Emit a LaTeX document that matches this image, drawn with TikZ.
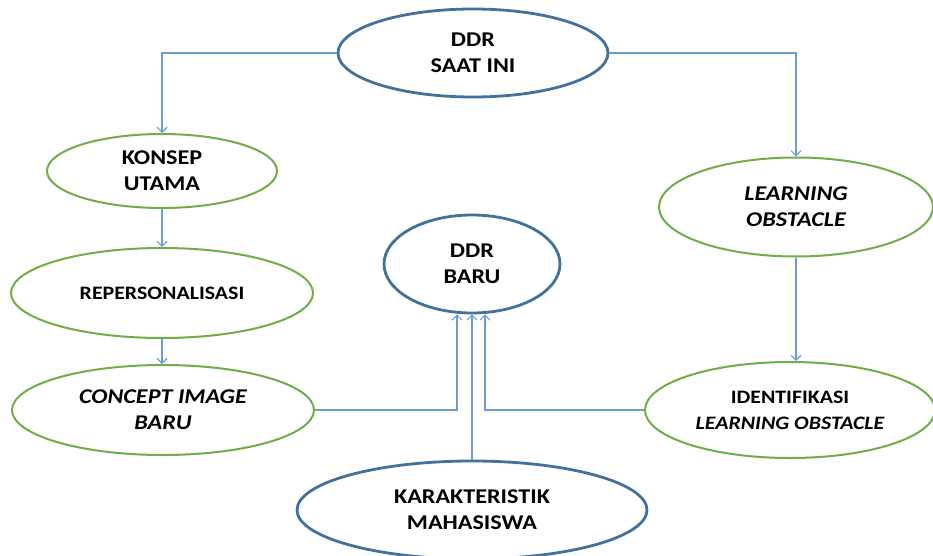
\documentclass[tikz,border=0pt]{standalone}
\usepackage{fontspec}
\setmainfont{Carlito}[FakeStretch=1.15]
\usetikzlibrary{shapes.geometric,arrows.meta}
\definecolor{bord}{HTML}{41719C}
\definecolor{grn}{HTML}{70AD47}
\definecolor{lnk}{HTML}{6C9BD6}
\tikzset{
  base/.style={ellipse,inner sep=0pt,align=center,font=\fontsize{21}{26}\selectfont\bfseries,fill=white},
  blueell/.style={base,draw=bord,line width=2.8pt},
  greenell/.style={base,draw=grn,line width=2pt},
  smalltext/.style={font=\fontsize{19}{26}\selectfont\bfseries},
  conn/.style={draw=lnk,line width=1.2pt,-{Straight Barb[length=5pt,width=10pt,line width=1.1pt]}},
}
\begin{document}
\begin{tikzpicture}[x=1pt,y=-1pt]
\useasboundingbox (0,0) rectangle (933,556);
\node[blueell,minimum width=270pt,minimum height=88pt] (ddr) at (473,53) {DDR\\SAAT INI};
\node[greenell,minimum width=230pt,minimum height=74pt] (konsep) at (162,171) {KONSEP\\UTAMA};
\node[greenell,smalltext,minimum width=302pt,minimum height=90pt] (rep) at (162,293) {REPERSONALISASI};
\node[greenell,minimum width=302pt,minimum height=90pt] (cib) at (163,410) {\itshape CONCEPT IMAGE\\\itshape BARU};
\node[greenell,minimum width=274pt,minimum height=99pt] (lo) at (796,207) {\itshape LEARNING\\\itshape OBSTACLE};
\node[greenell,smalltext,minimum width=290pt,minimum height=96pt] (ilo) at (790,410) {IDENTIFIKASI\\\itshape LEARNING OBSTACLE};
\node[blueell,minimum width=176pt,minimum height=98pt] (ddrbaru) at (472,264) {DDR\\BARU};
\node[blueell,minimum width=350pt,minimum height=98pt] (kar) at (472,510) {KARAKTERISTIK\\MAHASISWA};
\draw[conn] (ddr.west) -| (konsep.north);
\draw[conn] (ddr.east) -| (lo.north);
\draw[conn] (konsep.south) -- (konsep.south |- rep.north);
\draw[conn] (rep.south) -- (rep.south |- cib.north);
\draw[conn] (lo.south) -- (lo.south |- ilo.north);
\draw[conn] (cib.east) -| ([xshift=-15pt]ddrbaru.south);
\draw[conn] (kar.north) -- (kar.north |- ddrbaru.south);
\draw[conn] (ilo.west) -| ([xshift=13pt]ddrbaru.south);
\end{tikzpicture}
\end{document}
